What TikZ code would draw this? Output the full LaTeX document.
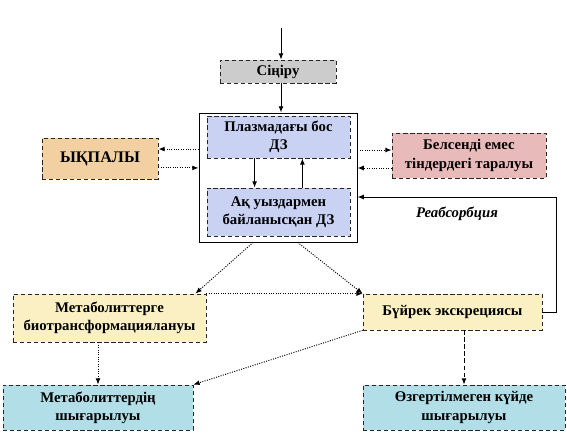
\documentclass[tikz,border=0pt]{standalone}
\usepackage{fontspec}
\setmainfont{Liberation Serif}
\usetikzlibrary{arrows.meta}
\definecolor{greybox}{RGB}{204,204,204}
\definecolor{plasmabox}{RGB}{202,210,244}
\definecolor{tanbox}{RGB}{242,208,162}
\definecolor{rosebox}{RGB}{232,186,186}
\definecolor{yellowbox}{RGB}{250,240,196}
\definecolor{cyanbox}{RGB}{178,222,232}
\begin{document}
\begin{tikzpicture}[x=0.025cm,y=-0.025cm,
box/.style={draw=black!85,densely dashed,line width=0.5pt,align=center,inner sep=1pt,font=\bfseries\fontsize{10.5}{13}\selectfont,text=black},
arr/.style={-{Latex[length=4.5pt,width=3.5pt]},line width=0.7pt,black},
dots/.style={arr,densely dotted},
dasharr/.style={arr,densely dashed}
]
\useasboundingbox (0,0) rectangle (567,434);
\node[box,fill=greybox,minimum width=116*0.025cm,minimum height=23*0.025cm] (sin) at (278,71.5) {Сіңіру};
\node[draw=black,solid,line width=0.6pt,fill=white,minimum width=158*0.025cm,minimum height=129*0.025cm] (big) at (278,177.5) {};
\node[box,fill=plasmabox,minimum width=143*0.025cm,minimum height=42*0.025cm] (pl) at (278.5,137) {Плазмадағы бос\\ДЗ};
\node[box,fill=plasmabox,minimum width=143*0.025cm,minimum height=48*0.025cm] (ak) at (278.5,212) {Ақ уыздармен\\байланысқан ДЗ};
\node[box,fill=tanbox,minimum width=116*0.025cm,minimum height=41*0.025cm,font=\bfseries\fontsize{11.5}{13}\selectfont] (yk) at (100,158.5) {ЫҚПАЛЫ};
\node[box,fill=rosebox,minimum width=154*0.025cm,minimum height=45*0.025cm] (bel) at (469,155.5) {Белсенді емес\\тіндердегі таралуы};
\node[box,fill=yellowbox,minimum width=193*0.025cm,minimum height=48*0.025cm] (met) at (109.5,318) {Метаболиттерге\\биотрансформациялануы};
\node[box,fill=yellowbox,minimum width=179*0.025cm,minimum height=36*0.025cm] (buy) at (452.5,312) {Бүйрек экскрециясы};
\node[box,fill=cyanbox,minimum width=190*0.025cm,minimum height=45*0.025cm] (mets) at (98,407.5) {Метаболиттердің\\шығарылуы};
\node[box,fill=cyanbox,minimum width=202*0.025cm,minimum height=45*0.025cm] (oz) at (464,407.5) {Өзгертілмеген күйде\\шығарылуы};
\node[font=\bfseries\itshape\fontsize{10.5}{13}\selectfont] (reablab) at (457,214) {Реабсорбция};
\coordinate (top) at (281,28);
\coordinate (reab) at (556,197);
\draw[arr] (top) -- (top |- sin.north);
\draw[arr] (sin.south -| top) -- (top |- big.north);
\draw[arr] ([xshift=-17pt]pl.south) -- ([xshift=-17pt]ak.north);
\draw[arr] ([xshift=17pt]ak.north) -- ([xshift=17pt]pl.south);
\draw[dots] ([yshift=6.7pt]yk.east -| big.west) -- ([yshift=6.7pt]yk.east);
\draw[dots] ([yshift=-6.7pt]yk.east) -- ([yshift=-6.7pt]yk.east -| big.west);
\draw[dots] ([yshift=3.9pt]bel.west -| big.east) -- ([yshift=3.9pt]bel.west);
\draw[dots] ([yshift=-8.9pt]bel.west) -- ([yshift=-8.9pt]bel.west -| big.east);
\draw[arr] (buy.east) -| (reab) -- (reab -| big.east);
\draw[dots] ([xshift=-17.7pt]big.south) -- ([xshift=-7.8pt]met.north east);
\draw[dots] ([xshift=14pt]big.south) -- (buy.north west);
\draw[dots] (met.north east) -- (buy.north west);
\draw[dots] (met.south -| mets.north) -- (mets.north);
\draw[dots] (buy.south west) -- (mets.north east);
\draw[dasharr] (oz.north |- buy.south) -- (oz.north);
\end{tikzpicture}
\end{document}
